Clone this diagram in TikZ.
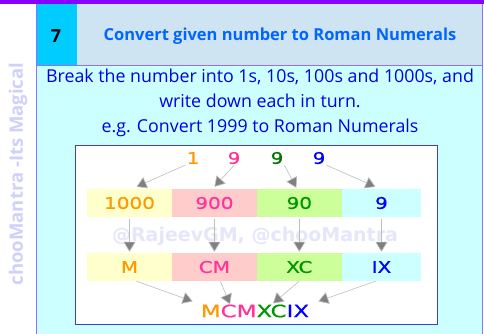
\documentclass[tikz,border=0pt]{standalone}
\usepackage{fontspec}
\setmainfont{Open Sans}
\newfontfamily\sidefont{Open Sans}
\newfontfamily\diagfont[FakeStretch=1.25, FakeBold=0.6]{DejaVu Sans}
\newfontfamily\wordfont[FakeStretch=1.35, FakeBold=0.6]{DejaVu Sans}
\newfontfamily\markfont{DejaVu Sans}
\usetikzlibrary{arrows.meta, positioning}
\definecolor{frameviolet}{RGB}{136,0,255}
\definecolor{lineviolet}{RGB}{150,110,255}
\definecolor{headcyan}{RGB}{0,204,255}
\definecolor{headlight}{RGB}{207,228,243}
\definecolor{bodycyan}{RGB}{204,255,255}
\definecolor{titleblue}{RGB}{0,102,255}
\definecolor{textblue}{RGB}{0,0,230}
\definecolor{imgborder}{RGB}{60,60,220}
\definecolor{sidelav}{RGB}{208,208,250}
\definecolor{marklav}{RGB}{230,230,250}
\definecolor{arrowgrey}{RGB}{128,128,128}
\definecolor{stemgrey}{RGB}{190,190,190}
\definecolor{numorange}{RGB}{255,153,0}
\definecolor{numpink}{RGB}{255,51,153}
\definecolor{numgreen}{RGB}{0,150,0}
\definecolor{numblue}{RGB}{0,0,255}
\definecolor{fillyellow}{RGB}{255,255,204}
\definecolor{fillpink}{RGB}{255,204,204}
\definecolor{fillgreen}{RGB}{204,255,153}
\definecolor{fillcyan}{RGB}{204,255,255}
\tikzset{
  numbox/.style={rectangle, inner sep=0pt, minimum width=#1, minimum height=28pt,
                 font=\diagfont\fontsize{16}{16}\selectfont},
  numbox/.default=84.5pt,
  digit/.style={inner sep=1pt, font=\diagfont\fontsize{16}{16}\selectfont},
  arrow/.style={-{Triangle[length=10pt, width=12pt, fill=arrowgrey]},
                draw=stemgrey, line width=0.6pt},
  frameline/.style={draw=lineviolet, line width=1.2pt},
}

\begin{document}
\begin{tikzpicture}[x=1pt, y=-1pt]

\useasboundingbox (0,0) rectangle (484,334);

% ── Frame: bar, header cells, body ────────────────────────────────────────────
\fill[white] (0,0) rectangle (484,334);
\fill[frameviolet] (0,0) rectangle (484,4);
\fill[headcyan] (37,4) rectangle (77,65);
\fill[headlight] (77,4) rectangle (482,65);
\fill[bodycyan] (37,66) rectangle (482,334);
\draw[frameline] (36.5,4) -- (36.5,334);
\draw[frameline] (482.5,4) -- (482.5,334);
\draw[frameline] (36.5,65.5) -- (482.5,65.5);

% ── Side label ────────────────────────────────────────────────────────────────
\node[rotate=90, text=sidelav, font=\sidefont\fontsize{18.5}{18.5}\selectfont\bfseries]
  (side) at (18,174) {chooMantra -Its Magical};

% ── Header ────────────────────────────────────────────────────────────────────
\node[font=\fontsize{18}{18}\selectfont\bfseries] (num) at (56,36) {7};
\node[text=titleblue, font=\fontsize{16.5}{16.5}\selectfont\bfseries]
  (title) at (280,36) {Convert given number to Roman Numerals};

% ── Body text ─────────────────────────────────────────────────────────────────
\node[text=textblue, align=center, font=\fontsize{17.8}{25}\selectfont]
  (intro) at (260,103)
  {Break the number into 1s, 10s, 100s and 1000s, and\\
   write down each in turn.\\
   e.g. Convert 1999 to Roman Numerals};

% ── Picture box ───────────────────────────────────────────────────────────────
\draw[draw=imgborder, fill=white, line width=1pt] (75.5,145.5) rectangle (437,324);

\node[text=marklav, font=\markfont\fontsize{19}{19}\selectfont\bfseries]
  (mark) at (255,236) {@RajeevGM, @chooMantra};

% ── Digits of 1999 ────────────────────────────────────────────────────────────
\node[digit, text=numorange] (d1) at (193,158) {1};
\node[digit, text=numpink]   (d2) at (234,158) {9};
\node[digit, text=numgreen!80!black] (d3) at (277,158) {9};
\node[digit, text=numblue]   (d4) at (319,158) {9};

% ── Place values ──────────────────────────────────────────────────────────────
\node[numbox, fill=fillyellow, text=numorange] (p1) at (129.5,203) {1000};
\node[numbox, fill=fillpink, text=numpink, right=0pt of p1] (p2) {900};
\node[numbox, fill=fillgreen, text=numgreen, right=0pt of p2] (p3) {90};
\node[numbox=79pt, fill=fillcyan, text=numblue, right=0pt of p3] (p4) {9};

% ── Roman parts ───────────────────────────────────────────────────────────────
\node[numbox, fill=fillyellow, text=numorange] (r1) at (129.5,267) {M};
\node[numbox, fill=fillpink, text=numpink, right=0pt of r1] (r2) {CM};
\node[numbox, fill=fillgreen, text=numgreen, right=0pt of r2] (r3) {XC};
\node[numbox=79pt, fill=fillcyan, text=numblue, right=0pt of r3] (r4) {IX};

% ── Result ────────────────────────────────────────────────────────────────────
\node[inner sep=1pt, font=\wordfont\fontsize{17}{17}\selectfont] (res) at (255,311)
  {\textcolor{numorange}{M}\textcolor{numpink}{CM}\textcolor{numgreen}{XC}\textcolor{numblue}{IX}};

% ── Arrows: digits → place values ─────────────────────────────────────────────
\draw[arrow] (d1.south west) -- ([xshift=7pt, yshift=2pt]p1.north);
\draw[arrow] (d2.south) -- ([yshift=2pt]p2.north);
\draw[arrow] (d3.south east) -- ([xshift=-3pt, yshift=1pt]p3.north);
\draw[arrow] (d4.south east) -- ([xshift=-6pt, yshift=2pt]p4.north);

% ── Arrows: place values → roman parts ────────────────────────────────────────
\foreach \i in {1,...,4}
  \draw[arrow, shorten <=2pt, shorten >=1pt] (p\i.south) -- (r\i.north);

% ── Arrows: roman parts → result ──────────────────────────────────────────────
\draw[arrow] ([xshift=7pt]r1.south) -- ([xshift=-7pt, yshift=2pt]res.north west);
\draw[arrow] ([xshift=6pt]r2.south) -- ([xshift=-25pt, yshift=-1pt]res.north);
\draw[arrow] (r3.south) -- ([xshift=18pt]res.north);
\draw[arrow] ([xshift=-6pt]r4.south) -- ([xshift=8pt, yshift=2pt]res.north east);

\end{tikzpicture}
\end{document}
